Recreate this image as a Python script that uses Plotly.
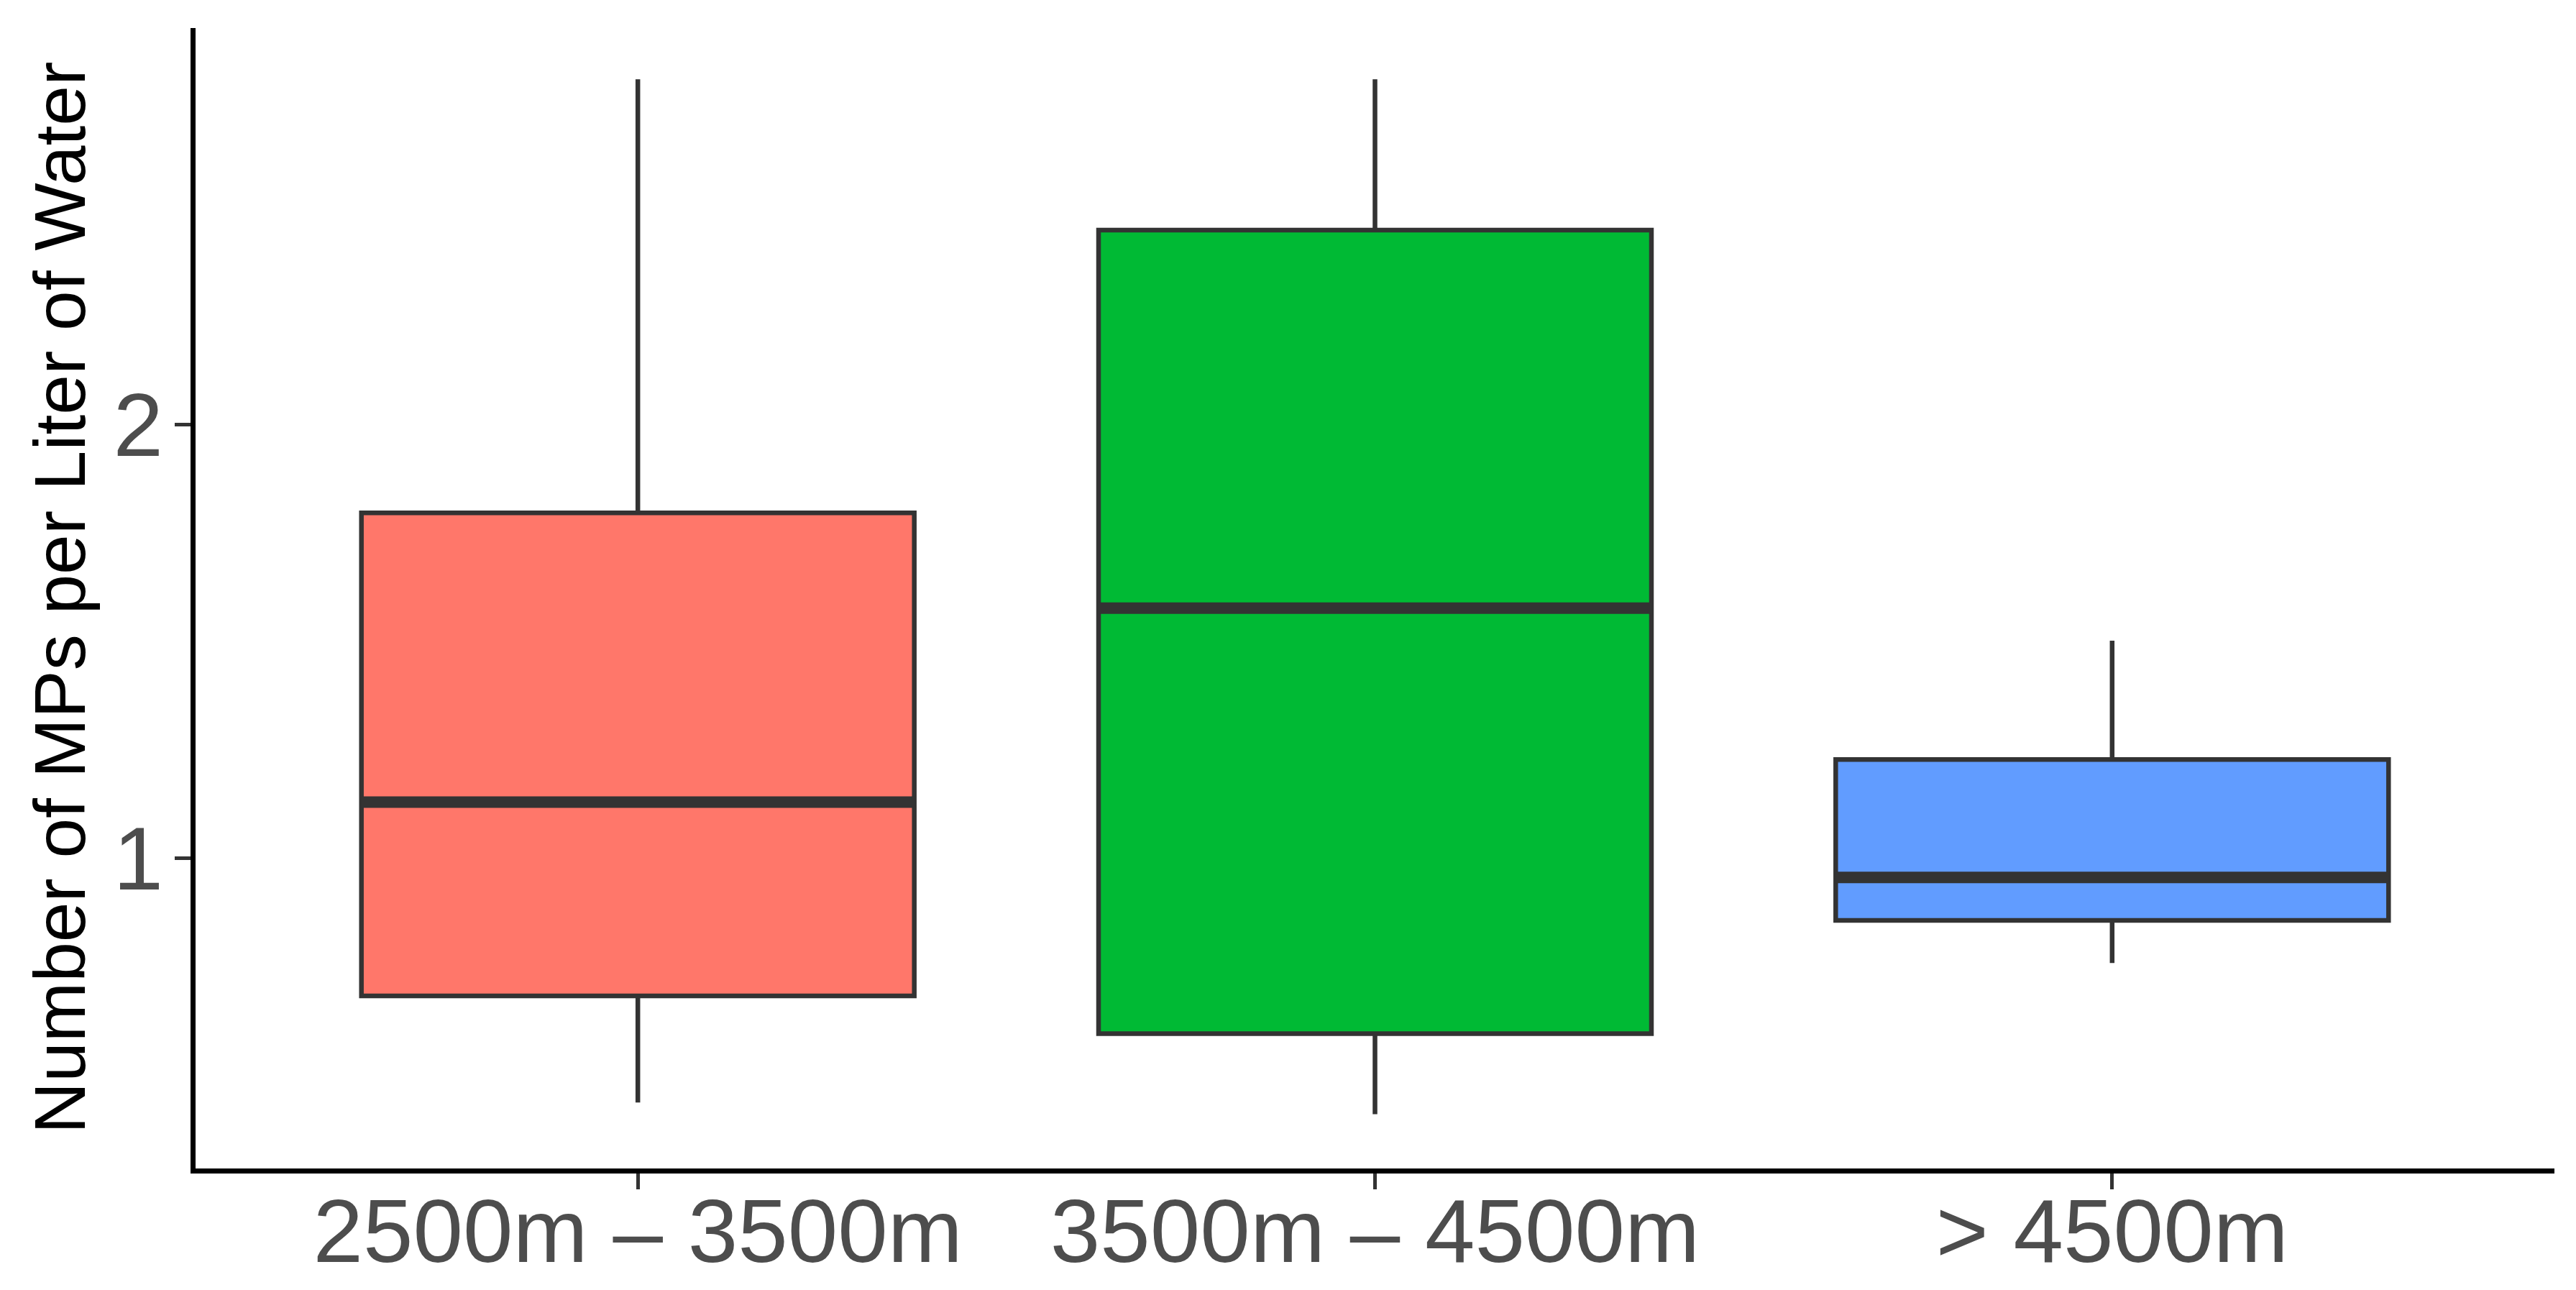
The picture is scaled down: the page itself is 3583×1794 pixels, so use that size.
import plotly.graph_objects as go

# ---- data ----
categories = ["2500m – 3500m", "3500m – 4500m", "> 4500m"]
positions = [1, 2, 3]
lower_whisker = [0.436, 0.409, 0.758]
q1_values = [0.682, 0.595, 0.856]
medians = [1.129, 1.576, 0.955]
q3_values = [1.796, 2.448, 1.227]
upper_whisker = [2.796, 2.796, 1.501]
fill_colors = ["#FF776A", "#00BA34", "#619CFF"]
y_tick_values = [1, 2]
y_tick_labels = ["1", "2"]
y_title = "Number of MPs per Liter of Water"

BOX_WIDTH = 0.75
EDGE = "#333333"

fig = go.Figure()
for i, cat in enumerate(categories):
    fig.add_trace(go.Box(
        x=[positions[i]],
        q1=[q1_values[i]], median=[medians[i]], q3=[q3_values[i]],
        lowerfence=[lower_whisker[i]], upperfence=[upper_whisker[i]],
        width=BOX_WIDTH,
        fillcolor=fill_colors[i],
        line=dict(color=EDGE, width=6.5),
        whiskerwidth=0,
        boxpoints=False,
        name=cat,
        showlegend=False,
        hoverinfo="skip",
    ))
# thicker median bars (ggplot style)
for i, cat in enumerate(categories):
    fig.add_trace(go.Scatter(
        x=[positions[i] - BOX_WIDTH / 2, positions[i] + BOX_WIDTH / 2],
        y=[medians[i], medians[i]],
        mode="lines",
        line=dict(color=EDGE, width=16),
        showlegend=False,
        hoverinfo="skip",
    ))

FONT = "Liberation Sans, Arial, sans-serif"

fig.update_layout(
    width=3583, height=1794,
    margin=dict(l=272, r=30, t=39, b=169),
    paper_bgcolor="white",
    plot_bgcolor="white",
    font=dict(family=FONT),
    xaxis=dict(
        range=[0.4, 3.6],
        automargin=False,
        tickmode="array",
        tickvals=positions,
        ticktext=categories,
        showgrid=False, zeroline=False,
        showline=True, linecolor="black", linewidth=7,
        ticks="outside", ticklen=22, tickwidth=5, tickcolor=EDGE,
        tickfont=dict(family=FONT, size=125, color="#4D4D4D"),
        ticklabelstandoff=-49,
    ),
    yaxis=dict(
        range=[0.284, 2.914],
        automargin=False,
        tickmode="array",
        tickvals=y_tick_values,
        ticktext=y_tick_labels,
        showgrid=False, zeroline=False,
        showline=True, linecolor="black", linewidth=7,
        ticks="outside", ticklen=22, tickwidth=5, tickcolor=EDGE,
        tickfont=dict(family=FONT, size=125, color="#4D4D4D"),
        ticklabelstandoff=-9,
    ),
    annotations=[dict(
        text=y_title,
        xref="paper", yref="paper",
        x=0, y=0.5,
        xanchor="center", yanchor="middle",
        xshift=-189,
        textangle=-90,
        showarrow=False,
        font=dict(family=FONT, size=100, color="black"),
    )],
)

fig.write_html(
    "out.html",
    config={"displayModeBar": False},
    post_script="document.body.style.margin='0';document.body.style.overflow='hidden';",
)
